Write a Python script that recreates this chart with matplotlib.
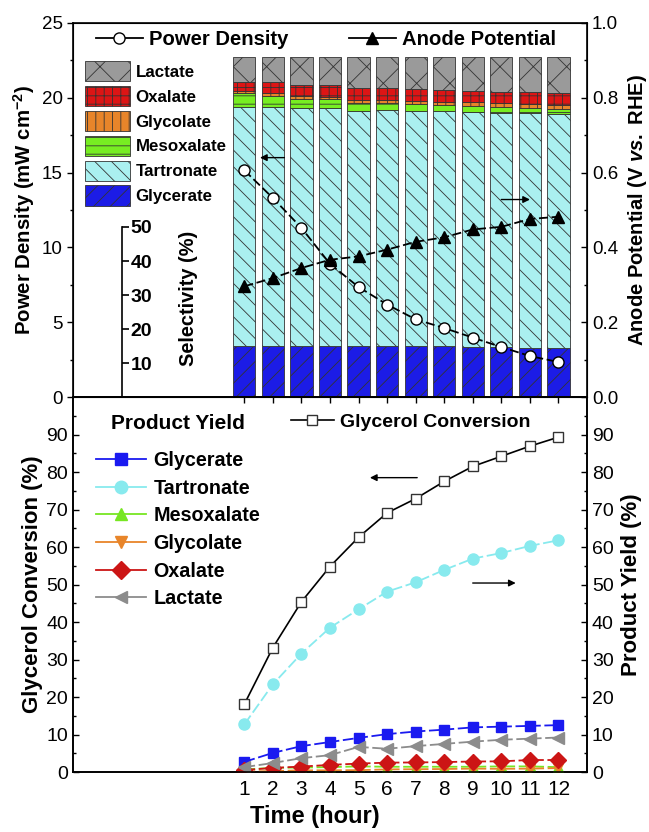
import matplotlib
matplotlib.use('Agg')
import matplotlib.pyplot as plt
from matplotlib.patches import Patch
from matplotlib.lines import Line2D

plt.rcParams['font.family'] = ['Liberation Sans', 'DejaVu Sans']
plt.rcParams['mathtext.fontset'] = 'custom'
plt.rcParams['mathtext.rm'] = 'Liberation Sans:bold'
plt.rcParams['mathtext.bf'] = 'Liberation Sans:bold'
plt.rcParams['mathtext.it'] = 'Liberation Sans:italic:bold'
plt.rcParams['hatch.linewidth'] = 0.6

hours = list(range(1, 13))

# top panel: power density (mW cm-2) and anode potential (V vs RHE)
power_density = [15.15, 13.3, 11.3, 8.9, 7.35, 6.18, 5.19, 4.61, 3.97, 3.34, 2.74, 2.34]
anode_potential = [0.296, 0.318, 0.345, 0.367, 0.376, 0.394, 0.415, 0.427, 0.448, 0.455, 0.476, 0.482]

# top panel: product selectivity (%), stacked bars
sel_glycerate = [15.1, 15.1, 15.1, 15.1, 15.0, 15.0, 15.0, 14.9, 14.8, 14.7, 14.3, 14.3]
sel_tartronate = [70.3, 70.2, 69.9, 70.0, 69.2, 69.4, 69.2, 69.2, 69.1, 68.9, 69.1, 68.9]
sel_mesoxalate = [3.9, 3.3, 2.6, 2.4, 2.4, 2.0, 1.9, 1.8, 1.7, 1.8, 1.7, 1.5]
sel_glycolate = [0.8, 0.7, 1.0, 0.8, 0.8, 1.0, 1.0, 1.0, 1.1, 1.0, 1.0, 1.2]
sel_oxalate = [2.6, 3.4, 3.2, 3.5, 3.6, 3.6, 3.5, 3.4, 3.4, 3.4, 3.7, 3.6]
sel_lactate = [7.3, 7.3, 8.2, 8.2, 9.0, 9.0, 9.4, 9.7, 9.9, 10.2, 10.2, 10.5]

# bottom panel: glycerol conversion and product yields (%)
conversion = [18.1, 33.2, 45.4, 54.8, 62.6, 69.1, 72.9, 77.5, 81.5, 84.2, 86.9, 89.3]
yld_glycerate = [2.7, 5.1, 6.9, 8.0, 9.1, 10.1, 10.8, 11.3, 11.9, 12.1, 12.3, 12.5]
yld_tartronate = [12.7, 23.4, 31.6, 38.5, 43.4, 48.1, 50.6, 53.9, 56.9, 58.4, 60.3, 61.8]
yld_mesoxalate = [0.7, 1.1, 1.2, 1.3, 1.5, 1.4, 1.4, 1.4, 1.4, 1.5, 1.5, 1.3]
yld_glycolate = [0.15, 0.25, 0.45, 0.45, 0.5, 0.7, 0.75, 0.8, 0.9, 0.85, 0.9, 1.05]
yld_oxalate = [0.5, 1.1, 1.45, 1.9, 2.25, 2.5, 2.55, 2.65, 2.8, 2.85, 3.2, 3.2]
yld_lactate = [1.3, 2.4, 3.7, 4.5, 6.7, 6.2, 6.9, 7.5, 8.1, 8.6, 8.9, 9.2]

products = ['Glycerate', 'Tartronate', 'Mesoxalate', 'Glycolate', 'Oxalate', 'Lactate']
bar_colors = ['#1c1ce6', '#aaf0f0', '#77ee22', '#e8852a', '#dd1515', '#9a9a9a']
bar_hatches = ['//', '\\\\', '--', '||', '++', 'x']
line_colors = ['#1a1af0', '#88eaee', '#77e622', '#e8852a', '#cc1515', '#8c8c8c']
line_markers = ['s', 'o', '^', 'v', 'D', '<']

fig = plt.figure(figsize=(6.49, 8.32), dpi=100)
ax = fig.add_axes([0.1125, 0.5228, 0.792, 0.4496])
ax_sel = ax.twinx()
ax_pot = ax.twinx()
ax_sel.set_zorder(0)
ax.set_zorder(1)
ax_pot.set_zorder(2)
ax.patch.set_visible(False)

xlim = (-5, 13)

# stacked selectivity bars
selectivity = [sel_glycerate, sel_tartronate, sel_mesoxalate, sel_glycolate, sel_oxalate, sel_lactate]
bottom = [0.0] * len(hours)
bar_handles = []
for name, vals, color, hatch in zip(products, selectivity, bar_colors, bar_hatches):
    ax_sel.bar(hours, vals, width=0.78, bottom=bottom, color=color, hatch=hatch,
               edgecolor='#333333', linewidth=0.6)
    bottom = [b + v for b, v in zip(bottom, vals)]
    bar_handles.append(Patch(facecolor=color, hatch=hatch, edgecolor='#333333',
                             linewidth=0.6, label=name))

ax_sel.set_ylim(0, 110)
ax_sel.set_xlim(*xlim)
for side in ('left', 'top', 'bottom'):
    ax_sel.spines[side].set_visible(False)
ax_sel.spines['right'].set_position(('data', -3.28))
ax_sel.spines['right'].set_bounds(0, 50)
ax_sel.spines['right'].set_linewidth(1.2)
ax_sel.set_yticks([10, 20, 30, 40, 50])
ax_sel.tick_params(axis='y', direction='out', length=5, width=1.2, labelsize=14, pad=1)
for lbl in ax_sel.get_yticklabels():
    lbl.set_fontweight('bold')
ax_sel.text(-0.95, 29, 'Selectivity (%)', rotation=90, ha='center', va='center',
            fontsize=14.4, fontweight='bold')

# power density and potential
ax.plot(hours, power_density, color='k', ls=(0, (5, 2)), lw=1.3, marker='o',
        ms=8, mfc='white', mec='k', mew=1)
ax.set_xlim(*xlim)
ax.set_ylim(0, 25)
ax.set_yticks([0, 5, 10, 15, 20, 25])
ax.set_yticks([2.5, 7.5, 12.5, 17.5, 22.5], minor=True)
ax.tick_params(axis='y', which='both', direction='out', labelsize=13.5, width=1)
ax.tick_params(axis='y', which='major', length=4)
ax.tick_params(axis='y', which='minor', length=2.5)
ax.tick_params(axis='x', bottom=False, labelbottom=False)
ax.set_ylabel('Power Density (mW cm$^{-2}$)', fontsize=14.7, fontweight='bold', labelpad=3)

ax_pot.plot(hours, anode_potential, color='k', ls=(0, (5, 2)), lw=1.3, marker='^',
            ms=9, mfc='k', mec='k')
ax_pot.set_ylim(0, 1.0)
ax_pot.set_yticks([0.0, 0.2, 0.4, 0.6, 0.8, 1.0])
ax_pot.set_yticks([0.1, 0.3, 0.5, 0.7, 0.9], minor=True)
ax_pot.tick_params(axis='y', which='both', direction='in', labelsize=13.5, width=1)
ax_pot.tick_params(axis='y', which='major', length=4)
ax_pot.tick_params(axis='y', which='minor', length=2.5)
ax_pot.set_ylabel('Anode Potential (V $\\it{vs.}$ RHE)', fontsize=14.5,
                  fontweight='bold', labelpad=6)
for sp in ax_pot.spines.values():
    sp.set_linewidth(1.2)

ax.annotate('', xy=(1.45, 16.0), xytext=(2.5, 16.0),
            arrowprops=dict(arrowstyle='-|>', color='k', lw=1.0, mutation_scale=10))
ax_pot.annotate('', xy=(11.1, 0.528), xytext=(9.9, 0.528),
                arrowprops=dict(arrowstyle='-|>', color='k', lw=1.0, mutation_scale=10))

leg_pd = ax.legend(handles=[Line2D([], [], color='k', lw=1.3, marker='o', ms=8,
                                   mfc='white', mec='k')],
                   labels=['Power Density'], loc='center left',
                   bbox_to_anchor=(0.045, 0.955), frameon=False, borderpad=0,
                   borderaxespad=0, handlelength=2.3, handletextpad=0.3,
                   prop={'weight': 'bold', 'size': 14.6})
ax.add_artist(leg_pd)
ax.legend(handles=bar_handles[::-1], loc='upper left', bbox_to_anchor=(0.023, 0.898),
          frameon=False, borderpad=0, borderaxespad=0, handlelength=2.65,
          handleheight=1.45, labelspacing=0.28, handletextpad=0.35,
          prop={'weight': 'bold', 'size': 12.2})
ax_pot.legend(handles=[Line2D([], [], color='k', lw=1.3, marker='^', ms=9,
                              mfc='k', mec='k')],
              labels=['Anode Potential'], loc='center left',
              bbox_to_anchor=(0.537, 0.955), frameon=False, borderpad=0,
              borderaxespad=0, handlelength=2.3, handletextpad=0.3,
              prop={'weight': 'bold', 'size': 14.6})

# bottom panel
ax2 = fig.add_axes([0.1125, 0.0721, 0.792, 0.4507])
ax2r = ax2.twinx()
ax2.plot(hours, conversion, color='k', lw=1.2, marker='s', ms=7.5,
         mfc='white', mec='#333333', mew=1)
yields = [yld_glycerate, yld_tartronate, yld_mesoxalate, yld_glycolate, yld_oxalate, yld_lactate]
yield_handles = []
for name, vals, color, mk in zip(products, yields, line_colors, line_markers):
    ms = 8 if mk in ('o', 'D', '<') else 7
    ax2r.plot(hours, vals, color=color, lw=1.3, ls=(0, (6, 2)), marker=mk, ms=ms,
              mfc=color, mec=color)
    yield_handles.append(Line2D([], [], color=color, lw=1.3, marker=mk, ms=ms + 1,
                                mfc=color, mec=color, label=name))

for a in (ax2, ax2r):
    a.set_xlim(*xlim)
    a.set_ylim(0, 100)
    a.set_yticks(range(0, 100, 10))
    a.set_yticks(range(5, 100, 10), minor=True)
    a.tick_params(axis='y', which='both', direction='in', labelsize=14, width=1)
    a.tick_params(axis='y', which='major', length=4)
    a.tick_params(axis='y', which='minor', length=2.5)
    for sp in a.spines.values():
        sp.set_linewidth(1.2)

ax2.set_xticks(hours)
ax2.tick_params(axis='x', direction='in', top=True, length=4, width=1,
                labelsize=15, pad=6)
ax2.set_xlabel('Time (hour)', fontsize=17, fontweight='bold', labelpad=4, x=0.471)
ax2.set_ylabel('Glycerol Conversion (%)', fontsize=16, fontweight='bold', labelpad=2)
ax2r.set_ylabel('Product Yield (%)', fontsize=16, fontweight='bold', labelpad=5)

ax2.annotate('', xy=(5.3, 78.5), xytext=(7.15, 78.5),
             arrowprops=dict(arrowstyle='-|>', color='k', lw=1.0, mutation_scale=10))
ax2.annotate('', xy=(10.6, 50.4), xytext=(8.9, 50.4),
             arrowprops=dict(arrowstyle='-|>', color='k', lw=1.0, mutation_scale=10))

leg_conv = ax2r.legend(handles=[Line2D([], [], color='k', lw=1.2, marker='s', ms=7.5,
                                       mfc='white', mec='#333333')],
                       labels=['Glycerol Conversion'], loc='center left',
                       bbox_to_anchor=(0.424, 0.933), frameon=False, borderpad=0,
                       borderaxespad=0, handlelength=2.2, handletextpad=0.3,
                       prop={'weight': 'bold', 'size': 14})
ax2r.add_artist(leg_conv)
leg_y = ax2r.legend(handles=yield_handles, loc='upper left', bbox_to_anchor=(0.045, 0.955),
                    frameon=False, borderpad=0, borderaxespad=0, handlelength=2.55,
                    labelspacing=0.44, handletextpad=0.35, title='Product Yield',
                    prop={'weight': 'bold', 'size': 14.2},
                    title_fontproperties={'weight': 'bold', 'size': 15})
leg_y._legend_box.sep = 13

fig.savefig('out.png', dpi=100)
